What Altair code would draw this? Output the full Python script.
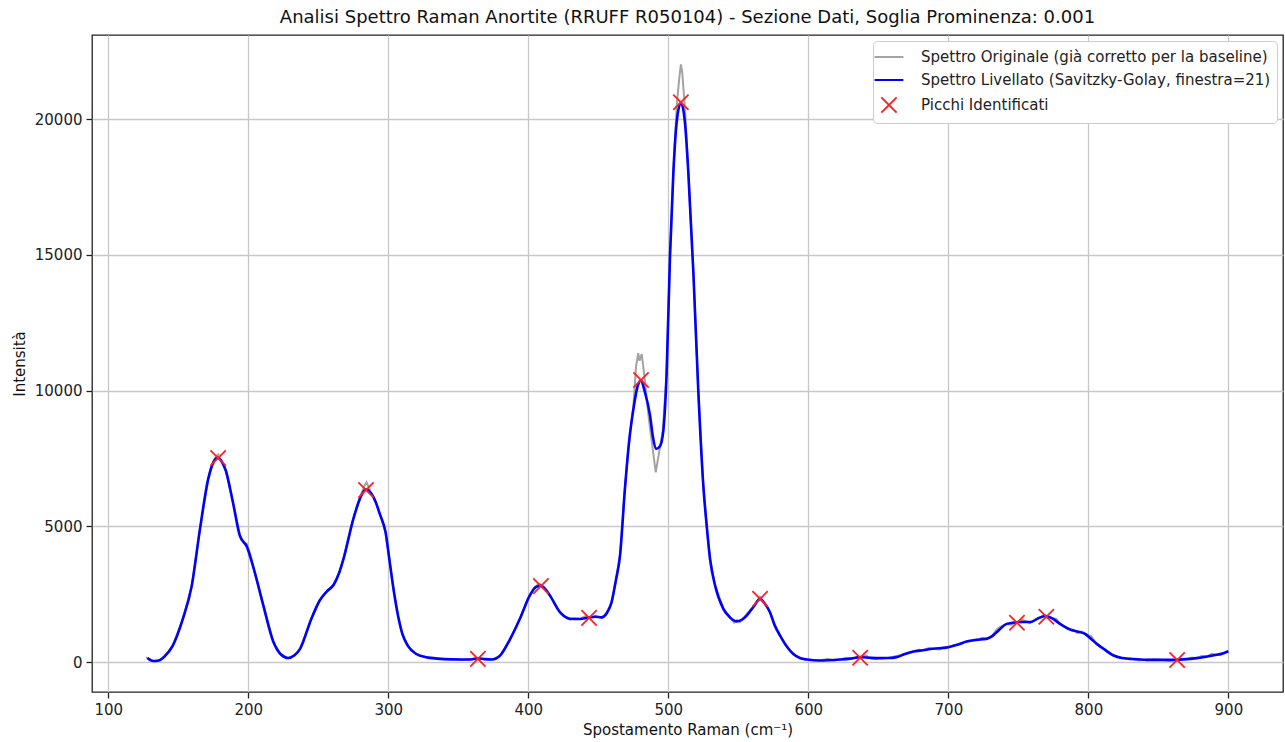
import altair as alt
import pandas as pd

# ---------------- data ----------------
# smoothed spectrum (Savitzky-Golay): (Raman shift cm-1, intensity)
smooth_points = [
    (128, 150), (132, 40), (136, 60), (140, 200), (146, 600), (153, 1550), (159.6, 2800), (165.5, 4900),
    (171.4, 6750), (175, 7350), (178, 7530), (181, 7400), (184, 7050), (189, 5900), (194, 4650), (199, 4250),
    (204, 3430), (210.7, 2100), (217.9, 750), (223, 300), (228.6, 150), (233, 250), (237, 490), (245, 1590),
    (251, 2270), (256, 2600), (261, 2850), (265, 3300), (268, 3800), (275, 5270), (280, 6050), (284, 6370),
    (288, 6200), (291, 5900), (294, 5450), (298, 4800), (301, 3700), (304, 2600), (307, 1700), (310, 1050),
    (314, 600), (320, 300), (327, 180), (335, 130), (345, 100), (358, 95), (364, 140), (369, 110), (374, 95),
    (380, 250), (387, 850), (394, 1600), (401, 2450), (405, 2750), (408.5, 2820), (412, 2700), (415.5, 2450),
    (422.6, 1840), (429.8, 1600), (437, 1590), (444, 1650), (448, 1670), (452.4, 1650), (456, 1800),
    (459.5, 2210), (462.5, 3000), (465.5, 3920), (469, 6380), (472.2, 8220), (475, 9300), (478, 10150),
    (480.5, 10380), (483, 10000), (487, 9070), (489, 8300), (491.2, 7850), (494, 7950), (496.4, 8500),
    (498.8, 10670), (501.2, 14960), (503.6, 18030), (506, 19900), (509, 20610), (512, 19800), (514.3, 18030),
    (517.9, 14350), (521.4, 10000), (525, 6500), (527.4, 5030), (529.8, 3800), (533.4, 2820), (539.3, 1960),
    (544, 1650), (549, 1500), (553, 1580), (556, 1715), (561, 2050), (565.5, 2330), (569, 2150), (572.6, 1840),
    (576, 1350), (579.8, 980), (585, 550), (589.3, 300), (594, 150), (599, 95), (608, 60), (622.6, 96),
    (630, 130), (637, 184), (644, 160), (651, 147), (657, 150), (663, 184), (669, 300), (675, 390), (682, 440),
    (689, 490), (700, 552), (707, 650), (713, 758), (720, 820), (727, 857), (731, 950), (734.5, 1100),
    (741.7, 1409), (748.8, 1472), (753, 1480), (758.4, 1472), (764.3, 1619), (769, 1693), (773.9, 1619),
    (780, 1400), (786.9, 1200), (792, 1130), (797.6, 1041), (802, 850), (806, 673), (812, 450), (818, 243),
    (824, 150), (830, 121), (841.7, 85), (852, 85), (863, 85), (870, 110), (877.4, 147), (885, 210),
    (891.7, 269), (897, 340), (900, 400)]

# original spectrum (baseline corrected)
orig_points = [
    (127, 180), (129, 120), (132, 40), (136, 60), (140, 200), (146, 600), (153, 1550), (159.6, 2800),
    (165.5, 4900), (171.4, 6750), (175, 7400), (177, 7580), (178.5, 7650), (180, 7450), (184, 7050),
    (189, 5900), (194, 4700), (197, 4400), (199, 4350), (201, 4050), (204, 3430), (210.7, 2100), (217.9, 750),
    (223, 300), (228.6, 150), (233, 250), (237, 490), (245, 1590), (251, 2270), (256, 2600), (261, 2850),
    (265, 3300), (268, 3800), (275, 5270), (280, 6100), (283, 6500), (284.5, 6620), (286, 6450), (288, 6200),
    (291, 5900), (294, 5450), (298, 4800), (301, 3700), (304, 2600), (307, 1700), (310, 1050), (314, 600),
    (320, 300), (327, 180), (333, 160), (338, 110), (345, 120), (352, 80), (358, 110), (364, 140), (369, 100),
    (374, 95), (380, 250), (387, 850), (394, 1600), (401, 2450), (405, 2780), (408, 2880), (410, 2830),
    (412, 2700), (415.5, 2450), (422.6, 1840), (426, 1700), (429.8, 1560), (433, 1620), (437, 1590),
    (441, 1700), (444, 1650), (448, 1700), (452.4, 1620), (456, 1800), (459.5, 2210), (462.5, 3000),
    (465.5, 3920), (469, 6380), (472.2, 8220), (475, 9400), (477, 10900), (478.5, 11380), (479.5, 11100),
    (481, 11350), (483, 10500), (486, 9000), (489, 7800), (491, 6990), (493, 7600), (496, 8500),
    (498.8, 10670), (501.2, 14960), (503.6, 18030), (506, 20500), (508, 21600), (509, 22020), (510, 21700),
    (512, 20300), (514.3, 18030), (517.9, 14350), (521.4, 10000), (525, 6500), (527.4, 5030), (529.8, 3800),
    (533.4, 2820), (539.3, 1960), (544, 1650), (547, 1450), (549, 1550), (551, 1470), (553, 1580),
    (556, 1780), (561, 2050), (565.5, 2400), (569, 2150), (572.6, 1840), (576, 1400), (579.8, 980),
    (585, 550), (589.3, 300), (594, 150), (599, 95), (604, 80), (608, 60), (614, 120), (618, 60),
    (622.6, 96), (627, 160), (630, 130), (637, 184), (641, 250), (644, 160), (648, 110), (651, 147),
    (657, 150), (663, 230), (666, 260), (669, 300), (672, 330), (675, 390), (679, 460), (682, 440),
    (686, 520), (689, 490), (694, 470), (697, 560), (700, 552), (704, 620), (707, 650), (710, 720),
    (713, 758), (717, 780), (720, 820), (724, 900), (727, 857), (731, 950), (734.5, 1200), (737, 1300),
    (741.7, 1409), (745, 1380), (748.8, 1472), (753, 1560), (758.4, 1450), (762, 1550), (764.3, 1619),
    (769, 1730), (773.9, 1619), (777, 1600), (780, 1400), (784, 1280), (786.9, 1200), (790, 1150),
    (792, 1080), (795, 1130), (797.6, 1060), (802, 950), (806, 673), (809, 560), (812, 450), (815, 320),
    (818, 243), (824, 150), (830, 121), (836, 60), (841.7, 85), (847, 110), (852, 85), (858, 40), (863, 85),
    (866, 130), (870, 110), (874, 170), (877.4, 147), (881, 230), (885, 210), (888, 310), (891.7, 269),
    (894, 260), (897, 340), (900, 400)]

peak_x = [178.5, 284.1, 364.0, 409.0, 443.4, 480.5, 509.0, 565.5, 637.0, 749.0, 770.0, 863.4]
peak_y = [7520, 6340, 120, 2800, 1630, 10390, 20620, 2330, 160, 1450, 1670, 80]

labels = ["Spettro Originale (già corretto per la baseline)",
          "Spettro Livellato (Savitzky-Golay, finestra=21)",
          "Picchi Identificati"]

df_orig = pd.DataFrame(orig_points, columns=["x", "y"]).assign(serie=labels[0])
df_smooth = pd.DataFrame(smooth_points, columns=["x", "y"]).assign(serie=labels[1])
df_peaks = pd.DataFrame({"x": peak_x, "y": peak_y, "serie": labels[2]})

colors = ["#a3a3a3", "#0000ff", "#ff2020"]
xpath = "M-0.85,-0.85L0.85,0.85M-0.85,0.85L0.85,-0.85"
lpath = "M-1.6,0L1.6,0"
shapes = [lpath, lpath, xpath]

xscale = alt.Scale(domain=[88.4, 939], nice=False, zero=False)
yscale = alt.Scale(domain=[-1100, 23100], nice=False, zero=False)

xenc = alt.X("x:Q", scale=xscale, title="Spostamento Raman (cm⁻¹)",
             axis=alt.Axis(values=[100, 200, 300, 400, 500, 600, 700, 800, 900], format="d"))
yenc = alt.Y("y:Q", scale=yscale, title="Intensità",
             axis=alt.Axis(values=[0, 5000, 10000, 15000, 20000], format="d"))

legend = alt.Legend(title=None, orient="top-right", offset=6, fillColor="white",
                    strokeColor="#cccccc", cornerRadius=4, padding=6,
                    labelFontSize=15, labelFont="DejaVu Sans", labelColor="#222222",
                    symbolSize=324, symbolStrokeWidth=2, labelOffset=22, rowPadding=5,
                    labelLimit=600)

color = alt.Color("serie:N", scale=alt.Scale(domain=labels, range=colors), legend=legend)
shape = alt.Shape("serie:N", scale=alt.Scale(domain=labels, range=shapes), legend=legend)

orig = alt.Chart(df_orig).mark_line(strokeWidth=2, interpolate="linear").encode(
    x=xenc, y=yenc, color=color)
smooth = alt.Chart(df_smooth).mark_line(strokeWidth=2.6, interpolate="monotone").encode(
    x=xenc, y=yenc, color=color)
peaks = alt.Chart(df_peaks).mark_point(filled=False, size=324, strokeWidth=1.8, opacity=1).encode(
    x=xenc, y=yenc, color=color, shape=shape)

chart = alt.layer(orig, smooth, peaks).properties(
    width=1191, height=657,
    autosize=alt.AutoSizeParams(type="none"),
    padding={"left": 92, "top": 35, "right": 2, "bottom": 50},
    title=alt.Title("Analisi Spettro Raman Anortite (RRUFF R050104) - Sezione Dati, Soglia Prominenza: 0.001",
                    fontSize=18, font="DejaVu Sans", fontWeight="normal", color="#111111",
                    anchor="middle", offset=8),
).configure_view(stroke="#222222", strokeWidth=1.3).configure_axis(
    domain=False, tickColor="#222222", tickSize=6, tickWidth=1.3,
    gridColor="#c8c8c8", gridWidth=1.3,
    labelFont="DejaVu Sans", labelFontSize=15, labelColor="#222222", labelPadding=4,
    titleFont="DejaVu Sans", titleFontSize=15, titleFontWeight="normal", titleColor="#111111",
).configure_axisX(titlePadding=5).configure_axisY(titlePadding=7)

chart.save("out.html", embed_options={"renderer": "svg", "actions": False})
